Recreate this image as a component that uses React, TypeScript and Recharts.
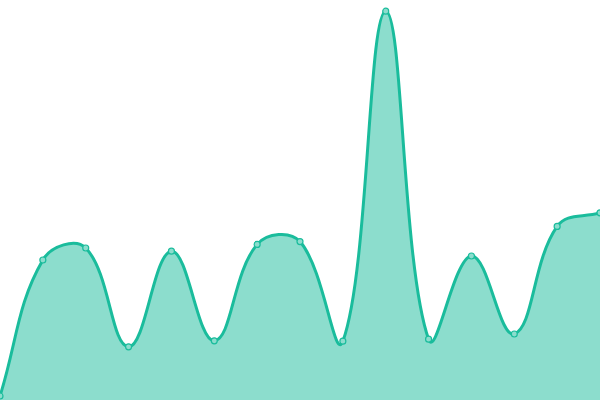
import React from 'react';
import { AreaChart, Area, XAxis, YAxis } from 'recharts';

const categories = ['1', '2', '3', '4', '5', '6', '7', '8', '9', '10', '11', '12', '13', '14', '15'];
const values = [1, 35, 38, 13.3, 37.2, 14.8, 38.9, 39.6, 14.7, 97.2, 15.2, 36, 16.5, 43.4, 46.8];

const data = categories.map((c, i) => ({ name: c, value: values[i] }));

// Tension-based spline curve (control points weighted by neighbour distances)
function splineCurve(tension: number) {
  return function (context: any) {
    let xs: number[] = [];
    let ys: number[] = [];
    let line: number = NaN;
    return {
      areaStart() {
        line = 0;
      },
      areaEnd() {
        line = NaN;
      },
      lineStart() {
        xs = [];
        ys = [];
      },
      point(x: number, y: number) {
        xs.push(+x);
        ys.push(+y);
      },
      lineEnd() {
        const n = xs.length;
        if (n) {
          if (line) context.lineTo(xs[0], ys[0]);
          else context.moveTo(xs[0], ys[0]);
          if (n === 2) {
            context.lineTo(xs[1], ys[1]);
          } else if (n > 2) {
            const pcx: number[] = [];
            const pcy: number[] = [];
            const ncx: number[] = [];
            const ncy: number[] = [];
            for (let i = 0; i < n; i++) {
              const px = i > 0 ? xs[i - 1] : xs[i];
              const py = i > 0 ? ys[i - 1] : ys[i];
              const nx = i < n - 1 ? xs[i + 1] : xs[i];
              const ny = i < n - 1 ? ys[i + 1] : ys[i];
              const cx = xs[i];
              const cy = ys[i];
              const d01 = Math.hypot(cx - px, cy - py);
              const d12 = Math.hypot(nx - cx, ny - cy);
              let s01 = d01 / (d01 + d12);
              let s12 = d12 / (d01 + d12);
              if (!isFinite(s01)) s01 = 0;
              if (!isFinite(s12)) s12 = 0;
              const fa = tension * s01;
              const fb = tension * s12;
              pcx[i] = cx - fa * (nx - px);
              pcy[i] = cy - fa * (ny - py);
              ncx[i] = cx + fb * (nx - px);
              ncy[i] = cy + fb * (ny - py);
            }
            for (let i = 0; i < n - 1; i++) {
              context.bezierCurveTo(ncx[i], ncy[i], pcx[i + 1], pcy[i + 1], xs[i + 1], ys[i + 1]);
            }
          }
        }
        if (line || (line !== 0 && n === 1)) context.closePath();
        line = 1 - line;
      },
    };
  };
}

const curve = splineCurve(0.4);

export default function App() {
  return (
    <div>
      <style>{'body{margin:0;}'}</style>
      <AreaChart width={600} height={400} data={data} margin={{ top: 0, right: 0, bottom: 0, left: 0 }}>
        <XAxis dataKey="name" hide />
        <YAxis hide domain={[0, 100]} />
        <Area
          type={curve as any}
          dataKey="value"
          stroke="#1abc9c"
          strokeWidth={3}
          fill="#1abc9c"
          fillOpacity={0.5}
          dot={{ r: 3, fill: '#8cddcd', stroke: '#1abc9c', strokeWidth: 1.2, fillOpacity: 1 }}
          activeDot={false}
          isAnimationActive={false}
        />
      </AreaChart>
    </div>
  );
}
